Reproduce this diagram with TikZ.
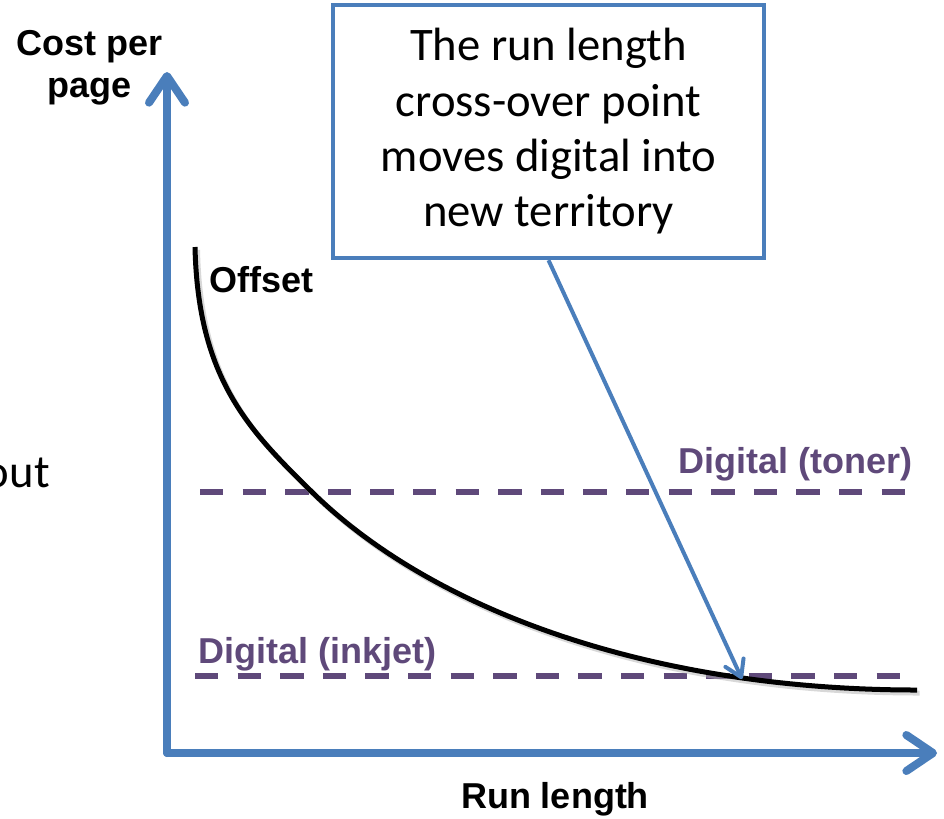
\documentclass[tikz,border=0pt]{standalone}
\usepackage{fontspec}
\setmainfont{Liberation Sans}
\newfontfamily\calloutfont{Carlito}
\usepackage{xcolor}
\usepackage{tikz}
\usetikzlibrary{positioning,calc,arrows.meta}

\definecolor{axisblue}{HTML}{4A7EBB}
\definecolor{techpurple}{HTML}{5F497A}

\tikzset{
    axis/.style={line width=6pt, axisblue, line cap=round,
        -{Straight Barb[round,length=20pt,width=27pt]}},
    levelline/.style={line width=4.5pt, techpurple, dash pattern=on 17.5pt off 14.45pt},
    axislabel/.style={font=\fontsize{27}{31.5}\selectfont\bfseries, inner sep=0pt},
    techlabel/.style={axislabel, text=techpurple},
    callout/.style={draw=axisblue, line width=3pt, fill=white, inner sep=0pt,
        minimum width=323pt, minimum height=190pt, align=center,
        font=\calloutfont\fontsize{35}{41.5}\selectfont},
    pointer/.style={axisblue, line width=3pt,
        -{Straight Barb[round,length=12pt,width=15pt]}}
}

\begin{document}
\begin{tikzpicture}[x=0.75pt, y=-0.75pt]
    \useasboundingbox (0,0) rectangle (944,818);

    % Axes
    \coordinate (origin) at (167,753);
    \coordinate (ytip) at (167,72);
    \coordinate (xtip) at (937,753);
    \draw[axis] (origin) -- (ytip);
    \draw[axis] (origin) -- (xtip);
    \node[axislabel, align=center, anchor=base] (costlabel) at (90,97) {Cost per\\page};
    \node[axislabel, anchor=base] (runlabel) at (555,808) {Run length};

    % Digital cost levels
    \draw[levelline] (200,492) -- (905,492);
    \draw[levelline] (195,676) -- (900,676);
    \node[techlabel, anchor=base east] (tonerlabel) at (913,473) {Digital (toner)};
    \node[techlabel, anchor=base west] (inkjetlabel) at (198,663) {Digital (inkjet)};

    % Offset curve (with light shadow)
    \draw[line width=3.75pt, black!30, opacity=0.5, shift={(2.5,3)}]
        (195,247) .. controls (198,380) and (250,431) .. (312,492)
        .. controls (432,610) and (650,690) .. (917,690);
    \draw[line width=3.75pt, black]
        (195,247) .. controls (198,380) and (250,431) .. (312,492)
        .. controls (432,610) and (650,690) .. (917,690);
    \node[axislabel, anchor=base west] (offsetlabel) at (209,292) {Offset};

    % Callout
    \node[callout] (crossover) at (548.5,131.5) {The run length\\cross-over point\\moves digital into\\new territory};
    \coordinate (crosspoint) at (742,679);
    \draw[pointer] (crossover.south) -- (crosspoint);

    % Cut-off text at the left edge
    \node[font=\calloutfont\fontsize{35}{41.5}\selectfont, inner sep=0pt, anchor=base east] (sidetext) at (50,487) {out};
\end{tikzpicture}
\end{document}
